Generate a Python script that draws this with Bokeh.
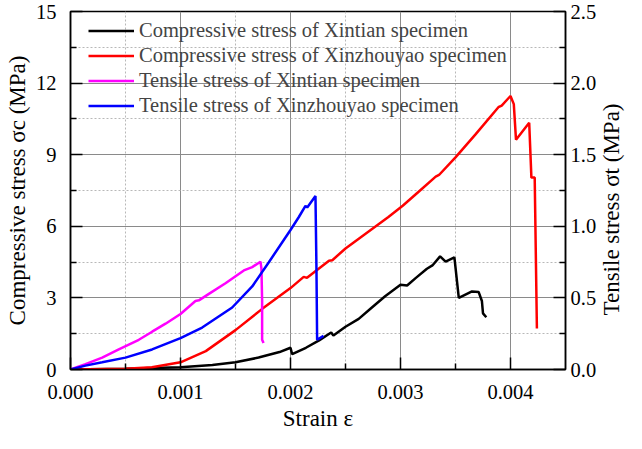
import math
from bokeh.plotting import figure
from bokeh.models import (Range1d, LinearAxis, FixedTicker, PrintfTickFormatter,
                          Legend, LegendItem, Label)
from bokeh.embed import file_html
from bokeh.resources import INLINE

FONT = "Liberation Serif"

# ---- data (strain, compressive stress MPa) ----
xt_c_strain = [0, 0.0005, 0.001, 0.00129, 0.0015, 0.00171, 0.0019, 0.002, 0.002015,
               0.00214, 0.00226, 0.00237, 0.00239, 0.0025, 0.00262, 0.00274, 0.00286,
               0.003, 0.00306, 0.00314, 0.00324, 0.00329, 0.00336, 0.00341, 0.00349,
               0.00353, 0.00365, 0.00371, 0.00374, 0.00375, 0.00378]
xt_c_stress = [0, 0.03, 0.09, 0.19, 0.30, 0.50, 0.73, 0.91, 0.64,
               0.91, 1.22, 1.55, 1.42, 1.79, 2.12, 2.60, 3.07,
               3.55, 3.52, 3.84, 4.22, 4.36, 4.74, 4.52, 4.70,
               3.00, 3.27, 3.25, 2.87, 2.35, 2.19]

xzy_c_strain = [0, 0.0005, 0.00074, 0.001, 0.00123, 0.0015, 0.00174, 0.002, 0.00212,
                0.00215, 0.00235, 0.00238, 0.0025, 0.00289, 0.00302, 0.00317, 0.00332,
                0.00335, 0.0035, 0.00368, 0.00389, 0.00392, 0.004, 0.00403, 0.00405,
                0.00417, 0.00419, 0.00422, 0.00424]
xzy_c_stress = [0, 0.03, 0.09, 0.30, 0.77, 1.65, 2.53, 3.41, 3.88,
                3.84, 4.56, 4.58, 5.07, 6.39, 6.86, 7.47, 8.08,
                8.15, 8.89, 9.84, 10.99, 11.06, 11.46, 11.12, 9.63,
                10.34, 8.04, 8.04, 1.72]

# ---- data (strain, tensile stress MPa) ----
xt_t_strain = [0, 0.000136, 0.000288, 0.000439, 0.000621, 0.000742, 0.000864, 0.001,
               0.001136, 0.001167, 0.001258, 0.001409, 0.001576, 0.001652, 0.001727,
               0.001736, 0.001742, 0.001742, 0.001755]
xt_t_stress = [0, 0.038, 0.083, 0.140, 0.2075, 0.264, 0.320, 0.388,
               0.478, 0.483, 0.528, 0.602, 0.692, 0.715, 0.753,
               0.704, 0.478, 0.2075, 0.185]

xzy_t_strain = [0, 0.000136, 0.000288, 0.0005, 0.000742, 0.001, 0.001197, 0.00147,
                0.001652, 0.001803, 0.002, 0.002076, 0.002136, 0.002152, 0.002227,
                0.002236, 0.002242, 0.0023]
xzy_t_stress = [0, 0.027, 0.050, 0.083, 0.140, 0.219, 0.293, 0.433,
                0.580, 0.749, 0.974, 1.065, 1.143, 1.132, 1.211,
                0.704, 0.2075, 0.235]

x_ticks = [0, 0.001, 0.002, 0.003, 0.004]
x_minor = [0.0005, 0.0015, 0.0025, 0.0035]
yc_ticks = [0, 3, 6, 9, 12, 15]
yc_minor = [1.5, 4.5, 7.5, 10.5, 13.5]
yt_ticks = [0, 0.5, 1.0, 1.5, 2.0, 2.5]
yt_minor = [0.25, 0.75, 1.25, 1.75, 2.25]

x_title = "Strain ε"
yc_title = "Compressive stress σc (MPa)"
yt_title = "Tensile stress σt (MPa)"

legend_labels = ["Compressive stress of Xintian specimen",
                 "Compressive stress of Xinzhouyao specimen",
                 "Tensile stress of Xintian specimen",
                 "Tensile stress of Xinzhouyao specimen"]

p = figure(width=626, height=433, output_backend="svg", toolbar_location=None,
           x_range=Range1d(0, 0.0045), y_range=Range1d(0, 15),
           min_border_left=70, min_border_right=61, min_border_top=11,
           min_border_bottom=61)
p.extra_y_ranges = {"t": Range1d(0, 2.5)}
p.background_fill_color = "white"
p.border_fill_color = "white"
p.outline_line_color = "black"
p.outline_line_width = 1.5
p.outline_line_alpha = 1

def style_axis(ax, standoff, title, title_standoff):
    ax.major_tick_in = 12
    ax.major_tick_out = 0
    ax.minor_tick_in = 6
    ax.minor_tick_out = 0
    ax.axis_line_width = 1.5
    ax.axis_line_color = "black"
    ax.major_tick_line_width = 1.5
    ax.minor_tick_line_width = 1.5
    ax.major_tick_line_color = "black"
    ax.minor_tick_line_color = "black"
    ax.major_label_text_font = FONT
    ax.major_label_text_font_size = "20.5px"
    ax.major_label_text_color = "black"
    ax.major_label_standoff = standoff
    ax.axis_label = title
    ax.axis_label_text_font = FONT
    ax.axis_label_text_font_size = "23px"
    ax.axis_label_text_font_style = "normal"
    ax.axis_label_text_color = "black"
    ax.axis_label_standoff = title_standoff

p.xaxis.ticker = FixedTicker(ticks=x_ticks, minor_ticks=x_minor)
p.xaxis.formatter = PrintfTickFormatter(format="%.3f")
p.yaxis.ticker = FixedTicker(ticks=yc_ticks, minor_ticks=yc_minor)
p.yaxis.formatter = PrintfTickFormatter(format="%d")
style_axis(p.xaxis[0], 15, x_title, 4)
style_axis(p.yaxis[0], 14, yc_title, 3)

right = LinearAxis(y_range_name="t",
                   ticker=FixedTicker(ticks=yt_ticks, minor_ticks=yt_minor),
                   formatter=PrintfTickFormatter(format="%.1f"))
style_axis(right, 5, None, 0)
p.add_layout(right, "right")

# right-hand title, reading bottom to top, in its own side panel
p.add_layout(Label(x=12, y=160, x_units="screen", y_units="screen", text=yt_title,
                   angle=math.pi / 2, text_align="center", text_baseline="alphabetic",
                   text_font=FONT, text_font_size="23px", text_color="black"),
             "right")

for g in (p.xgrid[0], p.ygrid[0]):
    g.grid_line_color = "#8a8a8a"
    g.grid_line_width = 1
    g.minor_grid_line_color = "#b8b8b8"
    g.minor_grid_line_width = 1
    g.minor_grid_line_dash = "2 2"

r1 = p.line(xt_c_strain, xt_c_stress, line_color="black", line_width=2.5)
r2 = p.line(xzy_c_strain, xzy_c_stress, line_color="#ff0000", line_width=2.5)
r3 = p.line(xt_t_strain, xt_t_stress, line_color="#ff00ff", line_width=2.5,
            y_range_name="t")
r4 = p.line(xzy_t_strain, xzy_t_stress, line_color="#0000ff", line_width=2.5,
            y_range_name="t")

legend = Legend(items=[LegendItem(label=legend_labels[0], renderers=[r1]),
                       LegendItem(label=legend_labels[1], renderers=[r2]),
                       LegendItem(label=legend_labels[2], renderers=[r3]),
                       LegendItem(label=legend_labels[3], renderers=[r4])],
                location=(10, 243), margin=0, padding=8, spacing=0,
                glyph_width=46, glyph_height=25, label_height=25,
                label_standoff=5, label_text_font=FONT,
                label_text_font_size="20.5px", background_fill_alpha=0,
                border_line_alpha=0)
p.add_layout(legend)

open("out.html", "w").write(file_html(p, INLINE))
